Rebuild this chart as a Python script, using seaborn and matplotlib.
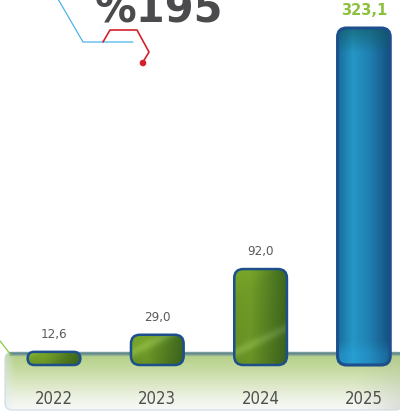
import numpy as np
import matplotlib
matplotlib.use("Agg")
import matplotlib.pyplot as plt
import seaborn as sns
from matplotlib.patches import FancyBboxPatch, Circle
from matplotlib.colors import to_rgb

# ---- data -------------------------------------------------------------
years = ["2022", "2023", "2024", "2025"]
values = [12.6, 29.0, 92.0, 323.1]
value_labels = ["12,6", "29,0", "92,0", "323,1"]
headline = "%195"

# ---- figure setup -----------------------------------------------------
sns.set_theme(style="white")
plt.rcParams["font.family"] = ["DejaVu Sans"]

W, H = 400, 414
fig = plt.figure(figsize=(W / 100, H / 100), dpi=100)
fig.patch.set_facecolor("white")

# background layer in pixel coordinates (y grows downward)
bg = fig.add_axes([0, 0, 1, 1], zorder=0)
bg.set_xlim(0, W)
bg.set_ylim(H, 0)
bg.axis("off")

# main chart axes: bottom edge sits on the bar baseline
base_px = 48
ax = fig.add_axes([0, base_px / H, 1, 1 - base_px / H], zorder=1)
ax.set_facecolor("none")


def lerp_stops(t, stops):
    pos = [p for p, _ in stops]
    cols = np.array([to_rgb(c) for _, c in stops])
    return np.stack([np.interp(t, pos, cols[:, k]) for k in range(3)], axis=-1)


def mix(img, color, amount):
    return img * (1 - amount) + np.array(to_rgb(color)) * amount


# ---- ground strip -----------------------------------------------------
sx0, sy0, sx1, sy1 = 5, 353, 404, 411
ny, nx = 120, 400
ty = np.linspace(0, 1, ny)[:, None]
tx = np.linspace(0, 1, nx)[None, :]
strip = lerp_stops(np.repeat(ty, nx, axis=1),
                   [(0, "#b0cd84"), (0.25, "#c2d99c"), (0.55, "#dbe7c4"),
                    (0.8, "#eef3e6"), (1, "#f8f9f8")])
# soft bluish tint along the left edge
left = np.clip(1 - (tx * (sx1 - sx0)) / 10, 0, 1)[..., None]
strip = mix(strip, "#e0eaf1", 0.5 * left)
# grey shading toward the right end
right = np.clip((tx * (sx1 - sx0) - 350) / 50, 0, 1)[..., None] * (0.3 + 0.7 * ty[..., None])
strip = mix(strip, "#a4aa9e", 0.35 * right)
strip_patch = FancyBboxPatch((sx0, sy0), sx1 - sx0, sy1 - sy0,
                             boxstyle="round,pad=0,rounding_size=7",
                             fc="none", ec="#cfdbe2", lw=0.8, zorder=1)
bg.add_patch(strip_patch)
im = bg.imshow(strip, extent=[sx0, sx1, sy1, sy0], aspect="auto", zorder=0.5,
               interpolation="bilinear")
im.set_clip_path(strip_patch)
bg.plot([9, 400], [354.0, 354.0], color="#62898f", lw=1.8, solid_capstyle="butt", zorder=2)
bg.plot([9, 400], [355.6, 355.6], color="#93b09a", lw=0.8, solid_capstyle="butt", zorder=2)

# decorative connector lines
bg.plot([0, 11], [342, 356], color="#8dc63f", lw=0.9, zorder=2)
bg.plot([58, 83, 133], [0, 43, 43], color="#4db3e6", lw=0.9)
bg.plot([103, 110, 137, 149, 143], [43, 31, 31, 53, 63], color="#d4202c", lw=1.2)
bg.add_patch(Circle((143, 64), 2.6, color="#d4202c"))

bg.text(158.5, 22.5, headline, ha="center", va="baseline", fontsize=30,
        fontweight="bold", color="#4b4b4d")

# ---- bars -------------------------------------------------------------
sns.barplot(x=years, y=values, ax=ax, width=0.51, color="#5e8a24", saturation=1)
sns.despine(ax=ax, left=True, bottom=True)

x_lo, x_hi = -54 / 103.3, (W - 54) / 103.3
y_lo, y_hi = 0, (H - base_px) / 1.043
ax.set_xlim(x_lo, x_hi)
ax.set_ylim(y_lo, y_hi)
ax.set_yticks([])
ax.tick_params(axis="x", length=0, pad=17.5, labelsize=12, labelcolor="#4f4f4f")
for lbl in ax.get_xticklabels():
    lbl.set_fontstretch("condensed")
    lbl.set_fontweight("light")

sx = W / (x_hi - x_lo)                  # pixels per x unit
sy = (H - base_px) / (y_hi - y_lo)      # pixels per y unit

green_stops = [(0, "#6c9b26"), (0.3, "#739f28"), (0.7, "#547f22"), (1, "#3e681e")]
blue_stops = [(0, "#196e9c"), (0.28, "#2597c6"), (0.6, "#1f7fb0"), (1, "#144e7e")]

for i, (bar, lab) in enumerate(zip(list(ax.patches), value_labels)):
    x0, y0 = bar.get_x(), bar.get_y()
    w, h = bar.get_width(), bar.get_height()
    bar.set_visible(False)
    h_px = h * sy
    r_px = min(9, h_px / 2)
    is_last = i == len(values) - 1
    box = FancyBboxPatch((x0, y0), w, h,
                         boxstyle=f"round,pad=0,rounding_size={r_px / sx}",
                         mutation_aspect=sx / sy, fc="none", ec="#1c4f8c",
                         lw=2.2 if is_last else 1.8, zorder=4, clip_on=False)
    ax.add_patch(box)

    gy = np.linspace(0, 1, 200)[:, None]          # 0 = top
    gx = np.linspace(0, 1, 60)[None, :]
    stops = blue_stops if is_last else green_stops
    img = lerp_stops(np.repeat(gx, 200, axis=0), stops)
    if is_last:
        top = np.clip(1 - gy * h_px / 24, 0, 1)[..., None]
        img = mix(img, "#11585c", 0.6 * top)
        bot = np.clip((gy * h_px - (h_px - 24)) / 14, 0, 1)[..., None] * (1 - 0.5 * gx[..., None])
        img = mix(img, "#2aa8e2", 0.45 * bot)
    else:
        # lighter top-left, darker lower-right
        tl = np.clip(1 - (gy * h_px + gx * 40) / 35, 0, 1)[..., None]
        img = mix(img, "#86b32e", 0.5 * tl)
        img = img * (0.92 + 0.08 * np.clip(1 - gy, 0, 1))[..., None]
        streak = np.exp(-((gy * h_px - (h_px - 12) + gx * 25) ** 2) / 25)[..., None]
        img = np.clip(img + 0.09 * streak, 0, 1)
    bim = ax.imshow(img, extent=[x0, x0 + w, y0, y0 + h], aspect="auto",
                    origin="upper", zorder=3, interpolation="bilinear")
    bim.set_clip_path(box)

    if is_last:
        ax.annotate(lab, (x0 + w / 2, y0 + h), xytext=(0, 13.5), textcoords="offset points",
                    ha="center", va="center", fontsize=10.5, fontweight="bold",
                    color="#8cc13f", annotation_clip=False)
    else:
        ax.annotate(lab, (x0 + w / 2, y0 + h), xytext=(0, 13.5), textcoords="offset points",
                    ha="center", va="center", fontsize=9.5, fontstretch="condensed",
                    fontweight="light", color="#5a5a5a", annotation_clip=False)

ax.set_xlim(x_lo, x_hi)
ax.set_ylim(y_lo, y_hi)

fig.savefig("out.png", dpi=100, facecolor="white")
